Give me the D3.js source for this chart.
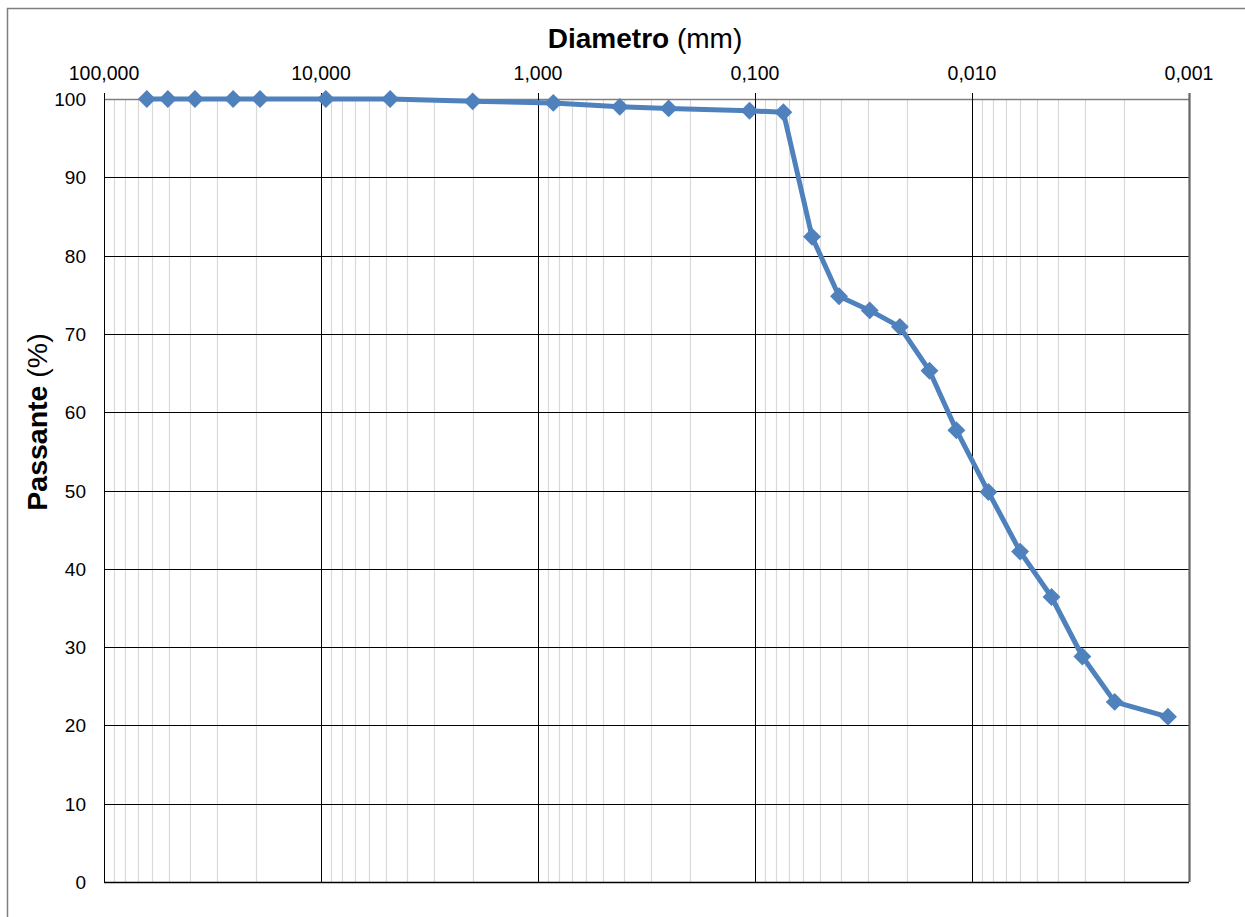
<!DOCTYPE html>
<html>
<head>
<meta charset="utf-8">
<script src="https://cdn.jsdelivr.net/npm/d3@7"></script>
<style>
  body { margin: 0; background: #fff; }
  svg { display: block; font-family: "Liberation Sans", Arial, sans-serif; }
</style>
</head>
<body>
<svg id="chart" width="1245" height="917"></svg>
<script>
// grain size curve: diameter (mm) vs percent passing
const diameters = [63.5, 50.8, 38.1, 25.4, 19.1, 9.5, 4.8, 2.0, 0.85, 0.42, 0.25, 0.106, 0.074,
  0.0546, 0.041, 0.0296, 0.0215, 0.0157, 0.0118, 0.0084, 0.0060, 0.0043, 0.0031, 0.0022, 0.00125];
const passing = [100, 100, 100, 100, 100, 100, 100, 99.7, 99.5, 99.0, 98.8, 98.5, 98.3,
  82.4, 74.8, 73.0, 70.9, 65.3, 57.7, 49.8, 42.2, 36.4, 28.8, 23.0, 21.1];
const xTicks = [100, 10, 1, 0.1, 0.01, 0.001];
const yTicks = [0, 10, 20, 30, 40, 50, 60, 70, 80, 90, 100];

const svg = d3.select("#chart");
const plotL = 104, plotR = 1189, plotT = 99, plotB = 882;

const x = d3.scaleLog().domain([100, 0.001]).range([plotL, plotR]);
const y = d3.scaleLinear().domain([0, 100]).range([plotB, plotT]);

const locale = d3.formatLocale({ decimal: ",", thousands: ".", grouping: [3], currency: ["", ""] });
const fmtX = locale.format(".3f");

// chart border (extends past the window on the right and bottom)
svg.append("rect")
  .attr("x", 7.5).attr("y", 8.5).attr("width", 1400).attr("height", 1100)
  .attr("fill", "none").attr("stroke", "#7f7f7f").attr("stroke-width", 1.5);

// minor vertical gridlines
const minor = [];
for (let e = -3; e < 2; e++) {
  for (let k = 2; k <= 9; k++) minor.push(k * Math.pow(10, e));
}
svg.append("g").selectAll("line").data(minor).enter().append("line")
  .attr("x1", d => Math.round(x(d)) + 0.5).attr("x2", d => Math.round(x(d)) + 0.5)
  .attr("y1", plotT).attr("y2", plotB)
  .attr("stroke", "#d9d9d9").attr("stroke-width", 1.2);

// horizontal gridlines
svg.append("g").selectAll("line").data(yTicks.filter(d => d > 0)).enter().append("line")
  .attr("x1", plotL).attr("x2", plotR)
  .attr("y1", d => Math.round(y(d)) + 0.5).attr("y2", d => Math.round(y(d)) + 0.5)
  .attr("stroke", d => d === 100 ? "#7f7f7f" : "#000").attr("stroke-width", d => d === 100 ? 1.5 : 1);

// major vertical gridlines
svg.append("g").selectAll("line").data(xTicks).enter().append("line")
  .attr("x1", d => Math.round(x(d)) + 0.5).attr("x2", d => Math.round(x(d)) + 0.5)
  .attr("y1", plotT - 6).attr("y2", plotB)
  .attr("stroke", d => d === 0.001 ? "#666" : "#000")
  .attr("stroke-width", d => d === 0.001 ? 2.2 : 1);

// bottom axis line
svg.append("line")
  .attr("x1", plotL).attr("x2", plotR).attr("y1", plotB + 0.5).attr("y2", plotB + 0.5)
  .attr("stroke", "#000").attr("stroke-width", 1.3);

// x tick labels (top)
svg.append("g").selectAll("text").data(xTicks).enter().append("text")
  .attr("x", d => x(d)).attr("y", 80)
  .attr("text-anchor", "middle").attr("font-size", 19.5).attr("fill", "#000")
  .text(d => fmtX(d));

// y tick labels
svg.append("g").selectAll("text").data(yTicks).enter().append("text")
  .attr("x", 86).attr("y", d => y(d) + 7)
  .attr("text-anchor", "end").attr("font-size", 19).attr("fill", "#000")
  .text(d => d);

// axis titles
const xt = svg.append("text").attr("x", 645).attr("y", 48)
  .attr("text-anchor", "middle").attr("font-size", 28).attr("fill", "#000");
xt.append("tspan").attr("font-weight", "bold").text("Diametro");
xt.append("tspan").text(" (mm)");

const yt = svg.append("text")
  .attr("transform", "translate(47,422) rotate(-90)")
  .attr("text-anchor", "middle").attr("font-size", 28.5).attr("fill", "#000");
yt.append("tspan").attr("font-weight", "bold").text("Passante");
yt.append("tspan").text(" (%)");

// series
const pts = diameters.map((d, i) => [d, passing[i]]);
const blue = "#4f81bd";

svg.append("path")
  .datum(pts)
  .attr("fill", "none").attr("stroke", blue).attr("stroke-width", 5)
  .attr("stroke-linejoin", "round")
  .attr("d", d3.line().x(d => x(d[0])).y(d => y(d[1])));

svg.append("g").selectAll("path").data(pts).enter().append("path")
  .attr("transform", d => `translate(${x(d[0])},${y(d[1])}) rotate(45)`)
  .attr("d", d3.symbol().type(d3.symbolSquare).size(160))
  .attr("fill", blue);
</script>
</body>
</html>
